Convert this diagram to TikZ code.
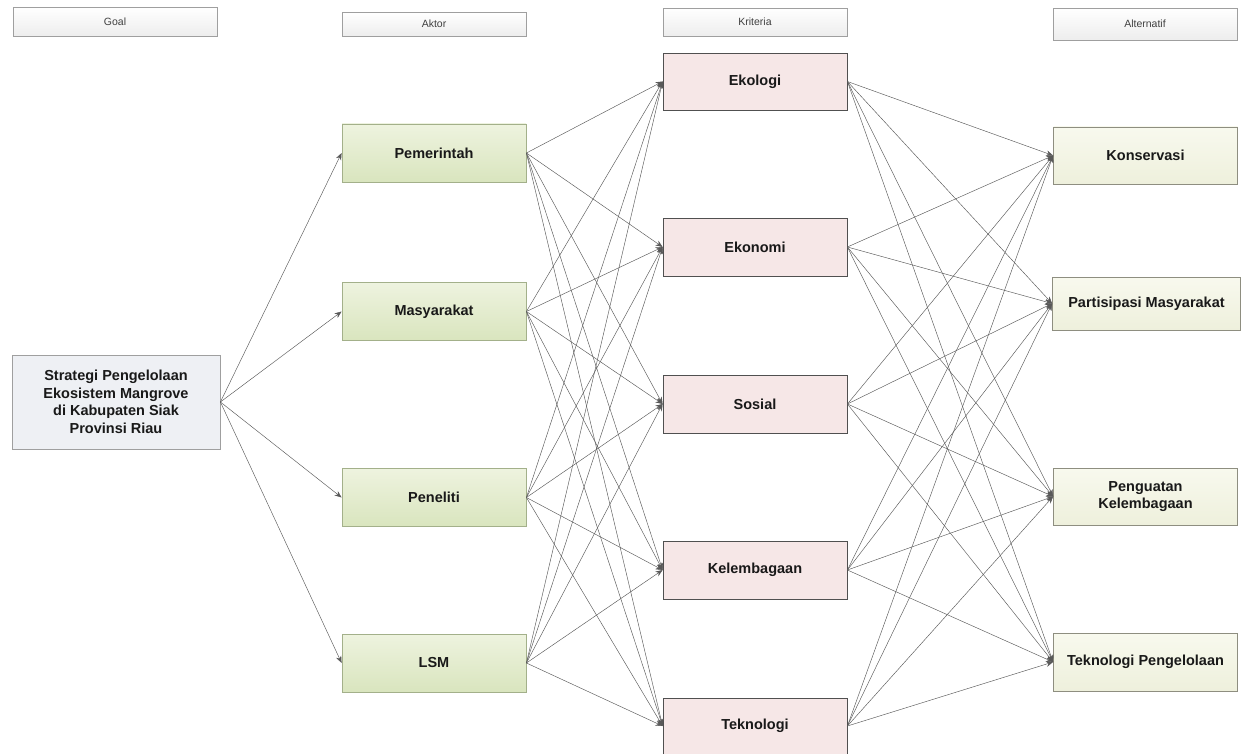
\documentclass[tikz,border=0pt]{standalone}
\usepackage{fontspec}
\setmainfont{Liberation Sans}
\usetikzlibrary{arrows.meta}
\definecolor{aktA}{HTML}{EEF3DF}
\definecolor{aktB}{HTML}{D9E5BE}
\definecolor{aktline}{HTML}{A3B08A}
\definecolor{kritfill}{HTML}{F6E7E7}
\definecolor{kritline}{HTML}{505050}
\definecolor{altA}{HTML}{F8F9EE}
\definecolor{altB}{HTML}{EEF0DC}
\definecolor{altline}{HTML}{8E8E80}
\definecolor{goalfill}{HTML}{EEF0F4}
\definecolor{edgecol}{HTML}{595959}
\begin{document}
\begin{tikzpicture}[x=1pt,y=-1pt,
  hdr/.style={draw=gray!75, top color=white, bottom color=gray!14, inner sep=0pt,
    font=\fontsize{10.5}{12}\selectfont, text=black!75, minimum width=184pt},
  boxbase/.style={inner sep=0pt, align=center, font=\fontsize{14.5}{17.5}\selectfont\bfseries, text=black!90, minimum width=184pt, minimum height=58pt},
  aktbox/.style={boxbase, draw=aktline, top color=aktA, bottom color=aktB, line width=0.8pt},
  kritbox/.style={boxbase, draw=kritline, fill=kritfill, line width=0.8pt},
  altbox/.style={boxbase, draw=altline, top color=altA, bottom color=altB, line width=0.8pt},
  goalbox/.style={boxbase, draw=gray!75, fill=goalfill, line width=0.8pt},
  conn/.style={draw=edgecol, line width=0.45pt, -{Stealth[length=7pt,width=5.5pt]}}
]
\useasboundingbox[fill=white] (0,0) rectangle (1248,754);

% headers
\node[hdr, minimum width=204pt, minimum height=29pt] (hgoal) at (115,21.5) {Goal};
\node[hdr, minimum height=24pt] (hakt) at (434,24) {Aktor};
\node[hdr, minimum height=28pt] (hkrit) at (755,22) {Kriteria};
\node[hdr, minimum height=32pt] (halt) at (1145,24) {Alternatif};

% goal
\node[goalbox, minimum width=208pt, minimum height=94pt] (goal) at (116,402)
  {Strategi Pengelolaan\\Ekosistem Mangrove\\di Kabupaten Siak\\Provinsi Riau};

% actors
\node[aktbox] (a1) at (434,153) {Pemerintah};
\node[aktbox] (a2) at (434,311.5) {Masyarakat};
\node[aktbox] (a3) at (434,497.5) {Peneliti};
\node[aktbox] (a4) at (434,663) {LSM};

% criteria
\node[kritbox, minimum height=57pt] (k1) at (755,81.5) {Ekologi};
\node[kritbox] (k2) at (755,247) {Ekonomi};
\node[kritbox] (k3) at (755,404) {Sosial};
\node[kritbox] (k4) at (755,570) {Kelembagaan};
\node[kritbox, minimum height=56pt] (k5) at (755,726) {Teknologi};

% alternatives
\node[altbox, minimum height=57pt] (l1) at (1145.5,155.5) {Konservasi};
\node[altbox, minimum width=188pt, minimum height=53pt] (l2) at (1146.5,303.5) {Partisipasi Masyarakat};
\node[altbox, minimum height=57pt] (l3) at (1145.5,496.5) {Penguatan\\Kelembagaan};
\node[altbox, minimum height=58pt] (l4) at (1145.5,662) {Teknologi Pengelolaan};

% connectors
\foreach \a in {a1,a2,a3,a4}{
  \draw[conn] (goal.east) -- (\a.west);
}
\foreach \a in {a1,a2,a3,a4}{
  \foreach \k in {k1,k2,k3,k4,k5}{
    \draw[conn] (\a.east) -- (\k.west);
  }
}
\foreach \k in {k1,k2,k3,k4,k5}{
  \foreach \l in {l1,l2,l3,l4}{
    \draw[conn] (\k.east) -- (\l.west);
  }
}
\end{tikzpicture}
\end{document}
